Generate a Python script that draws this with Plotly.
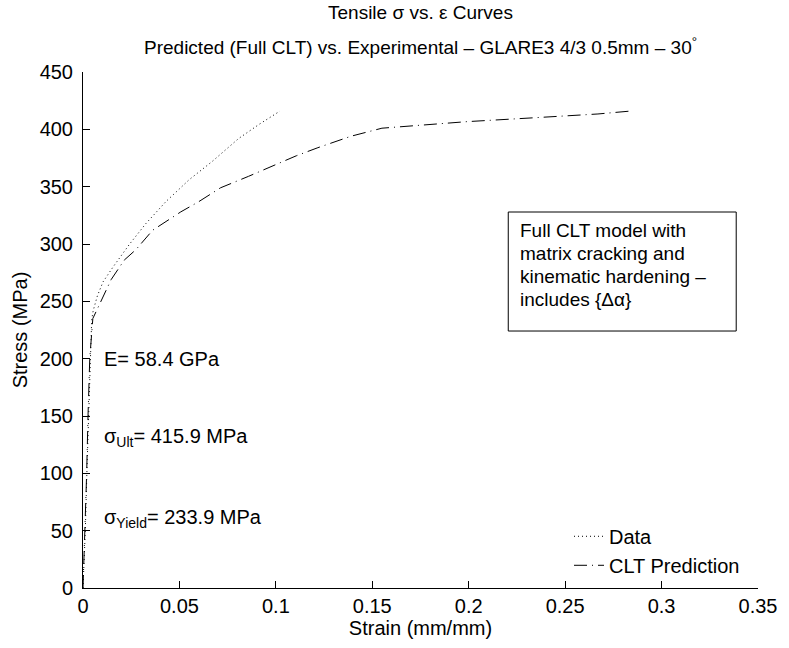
import plotly.graph_objects as go

# ---- data ----
data_strain = [0, 0.0012, 0.0020, 0.0028, 0.0036, 0.0045, 0.0053, 0.0075, 0.0104, 0.0156,
               0.0242, 0.0327, 0.0430, 0.0550, 0.0670, 0.0807, 0.0910, 0.1021]
data_stress = [0, 50, 100, 150, 200, 234, 242, 255, 267, 280,
               300, 318, 337, 356, 372, 392, 404, 415.9]

clt_strain = [0, 0.0010, 0.0019, 0.0026, 0.0035, 0.0051, 0.0086, 0.0146, 0.0214, 0.0274,
              0.0361, 0.0447, 0.0507, 0.0601, 0.0713, 0.0858, 0.0987, 0.1107, 0.1218,
              0.1390, 0.1550, 0.1646, 0.1990, 0.2330, 0.2670, 0.2837]
clt_stress = [0, 50, 100, 150, 200, 235, 247, 269, 286, 295,
              312, 321, 328, 337, 349, 359, 368, 377, 384,
              394, 401, 402.3, 406.7, 410, 413.4, 415.9]

x_ticks = [0, 0.05, 0.1, 0.15, 0.2, 0.25, 0.3, 0.35]
x_tick_labels = ["0", "0.05", "0.1", "0.15", "0.2", "0.25", "0.3", "0.35"]
y_ticks = [0, 50, 100, 150, 200, 250, 300, 350, 400, 450]
y_tick_labels = ["0", "50", "100", "150", "200", "250", "300", "350", "400", "450"]

title_lines = ["Tensile σ vs. ε Curves",
               "Predicted (Full CLT) vs. Experimental – GLARE3 4/3 0.5mm – 30<sup>°</sup>"]
box_lines = ["Full CLT model with", "matrix cracking and",
             "kinematic hardening –", "includes {Δα}"]
props_text = ["E= 58.4 GPa", "σ<sub>Ult</sub>= 415.9 MPa", "σ<sub>Yield</sub>= 233.9 MPa"]
props_y = [200, 131, 61]

FONT = "Liberation Sans, Arial, Helvetica, sans-serif"

fig = go.Figure()
fig.add_trace(go.Scatter(x=data_strain, y=data_stress, mode="lines", name="Data",
                         line=dict(color="black", width=1, dash="1px,3px")))
fig.add_trace(go.Scatter(x=clt_strain, y=clt_stress, mode="lines", name="CLT Prediction",
                         line=dict(color="black", width=1, dash="13px,5px,1px,5px")))

W, H = 789, 648
L, R, T, B = 83, 25, 72, 60

fig.update_layout(
    width=W, height=H,
    margin=dict(l=L, r=R, t=T, b=B),
    paper_bgcolor="white", plot_bgcolor="white",
    font=dict(family=FONT, size=20, color="black"),
    showlegend=True,
    legend=dict(x=0.72, y=0.138, xanchor="left", yanchor="top",
                bgcolor="rgba(0,0,0,0)", borderwidth=0,
                font=dict(size=20), tracegroupgap=0, itemwidth=30),
)
fig.update_xaxes(range=[0, 0.35], tickvals=x_ticks, ticktext=x_tick_labels,
                 showgrid=False, zeroline=False, showline=True, linecolor="black",
                 linewidth=1, ticks="inside", ticklen=7, tickcolor="black",
                 tickfont=dict(size=20), mirror=False,
                 title=dict(text="Strain (mm/mm)", font=dict(size=20), standoff=4))
fig.update_yaxes(range=[0, 450], tickvals=y_ticks, ticktext=y_tick_labels,
                 showgrid=False, zeroline=False, showline=True, linecolor="black",
                 linewidth=1, ticks="inside", ticklen=7, tickcolor="black",
                 tickfont=dict(size=20), mirror=False, ticklabelstandoff=5,
                 title=dict(text="Stress (MPa)", font=dict(size=20), standoff=6))

# titles
fig.add_annotation(text=title_lines[0], xref="paper", yref="paper", x=0.5, y=1,
                   yshift=72 - 12, xanchor="center", yanchor="middle", showarrow=False,
                   font=dict(size=19))
fig.add_annotation(text=title_lines[1], xref="paper", yref="paper", x=0.5, y=1,
                   yshift=72 - 46, xanchor="center", yanchor="middle", showarrow=False,
                   font=dict(size=19))

# property annotations
for t, yv in zip(props_text, props_y):
    fig.add_annotation(text=t, x=0.0097, y=yv, xanchor="left", yanchor="middle",
                       showarrow=False, font=dict(size=20))

# text box
fig.add_shape(type="rect", x0=0.2205, x1=0.3387, y0=224.1, y1=327.9,
              line=dict(color="black", width=1), fillcolor="white", layer="above")
for i, t in enumerate(box_lines):
    fig.add_annotation(text=t, xref="x", yref="y", x=0.2256, y=327.9,
                       yshift=-(18 + 23.3 * i), xanchor="left", yanchor="middle",
                       showarrow=False, font=dict(size=19))

fig.write_html("out.html")
